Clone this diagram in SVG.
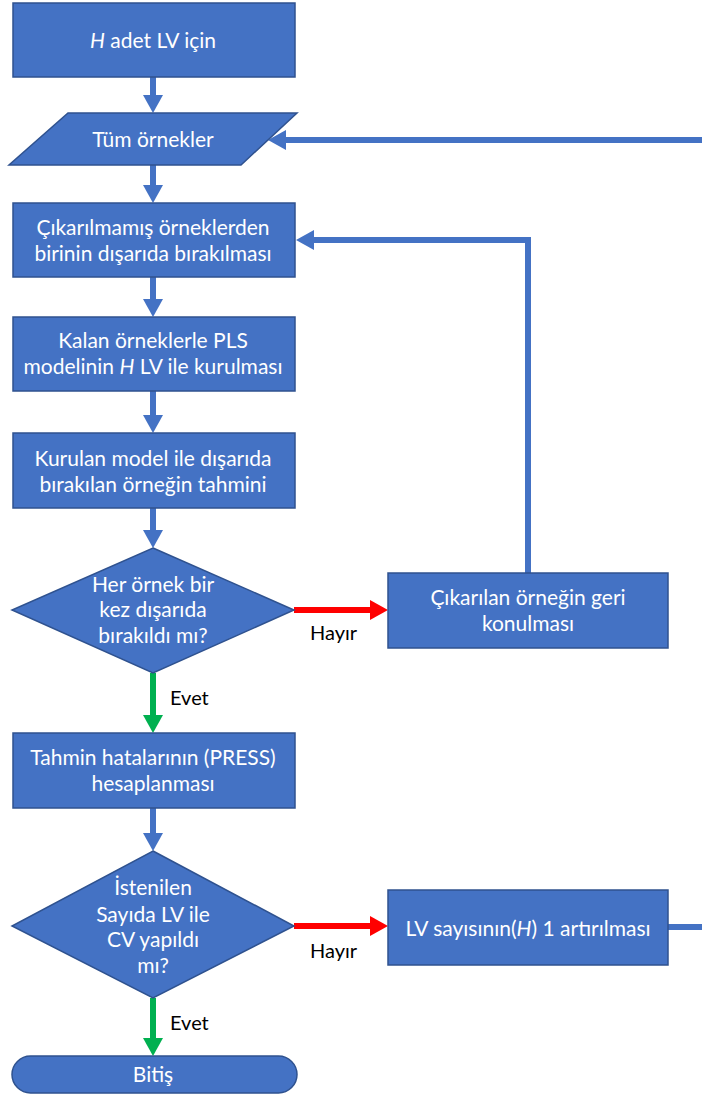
<svg xmlns="http://www.w3.org/2000/svg" width="702" height="1094" viewBox="0 0 702 1094">
<style>
.n{fill:#4472C4;stroke:#2F528F;stroke-width:1.5}
.t{font-family:Lato,"Liberation Sans",sans-serif;font-size:21px;fill:#fff;text-anchor:middle}
.l{font-family:Lato,"Liberation Sans",sans-serif;font-size:20px;fill:#000}
.b{fill:none;stroke:#4472C4;stroke-width:6}
.r{fill:none;stroke:#FF0000;stroke-width:6}
.g{fill:none;stroke:#00B050;stroke-width:6}
</style>
<defs>
<marker id="hb" markerUnits="userSpaceOnUse" markerWidth="18" markerHeight="20" refX="0" refY="10" orient="auto" overflow="visible"><path d="M0,0 L18,10 L0,20 z" fill="#4472C4"/></marker>
<marker id="hr" markerUnits="userSpaceOnUse" markerWidth="18" markerHeight="20" refX="0" refY="10" orient="auto" overflow="visible"><path d="M0,0 L18,10 L0,20 z" fill="#FF0000"/></marker>
<marker id="hg" markerUnits="userSpaceOnUse" markerWidth="18" markerHeight="20" refX="0" refY="10" orient="auto" overflow="visible"><path d="M0,0 L18,10 L0,20 z" fill="#00B050"/></marker>
</defs>
<g id="connectors">
<path class="b" d="M153,77 V95" marker-end="url(#hb)"/>
<path class="b" d="M153,165 V185" marker-end="url(#hb)"/>
<path class="b" d="M153,277 V299" marker-end="url(#hb)"/>
<path class="b" d="M153,391 V415" marker-end="url(#hb)"/>
<path class="b" d="M153,508 V530" marker-end="url(#hb)"/>
<path class="r" d="M294,610 H370" marker-end="url(#hr)"/>
<path class="g" d="M153,673 V715" marker-end="url(#hg)"/>
<path class="b" d="M153,808 V833" marker-end="url(#hb)"/>
<path class="r" d="M294,926 H370" marker-end="url(#hr)"/>
<path class="g" d="M153,998 V1038" marker-end="url(#hg)"/>
<path class="b" d="M528,573 V240 H314" marker-end="url(#hb)"/>
<path class="b" d="M668,927 H712 V140 H286" marker-end="url(#hb)"/>
<text class="l" x="310" y="640">Hayır</text>
<text class="l" x="170" y="705">Evet</text>
<text class="l" x="310" y="958">Hayır</text>
<text class="l" x="170" y="1030">Evet</text>
</g>
<g id="n1"><rect class="n" x="13" y="3" width="282" height="74"/><text class="t" x="153" y="48"><tspan font-style="italic">H</tspan> adet LV için</text></g>
<g id="n2"><polygon class="n" points="68,113 297,113 241,165 9,165"/><text class="t" x="153" y="147">Tüm örnekler</text></g>
<g id="n3"><rect class="n" x="13" y="203" width="282" height="74"/><text class="t" x="153" y="235">Çıkarılmamış örneklerden</text><text class="t" x="153" y="261">birinin dışarıda bırakılması</text></g>
<g id="n4"><rect class="n" x="13" y="317" width="282" height="74"/><text class="t" x="153" y="348">Kalan örneklerle  PLS</text><text class="t" x="153" y="374">modelinin <tspan font-style="italic">H</tspan> LV ile kurulması</text></g>
<g id="n5"><rect class="n" x="13" y="433" width="282" height="75"/><text class="t" x="153" y="466">Kurulan model ile dışarıda</text><text class="t" x="153" y="492">bırakılan örneğin tahmini</text></g>
<g id="n6"><polygon class="n" points="153,548 294,610 153,673 12,610"/><text class="t" x="153" y="592">Her örnek bir</text><text class="t" x="153" y="617">kez dışarıda</text><text class="t" x="153" y="643">bırakıldı mı?</text></g>
<g id="n7"><rect class="n" x="388" y="573" width="280" height="75"/><text class="t" x="528" y="605">Çıkarılan örneğin geri</text><text class="t" x="528" y="631">konulması</text></g>
<g id="n8"><rect class="n" x="13" y="733" width="282" height="75"/><text class="t" x="153" y="765">Tahmin hatalarının (PRESS)</text><text class="t" x="153" y="791">hesaplanması</text></g>
<g id="n9"><polygon class="n" points="153,851 294,926 153,998 12,926"/><text class="t" x="153" y="895">İstenilen</text><text class="t" x="153" y="922">Sayıda LV ile</text><text class="t" x="153" y="947">CV yapıldı</text><text class="t" x="153" y="973">mı?</text></g>
<g id="n10"><rect class="n" x="388" y="890" width="280" height="75"/><text class="t" x="528" y="936">LV sayısının(<tspan font-style="italic">H</tspan>) 1 artırılması</text></g>
<g id="n11"><rect class="n" x="12" y="1056" width="285" height="37" rx="18.5"/><text class="t" x="153" y="1082">Bitiş</text></g>
</svg>
